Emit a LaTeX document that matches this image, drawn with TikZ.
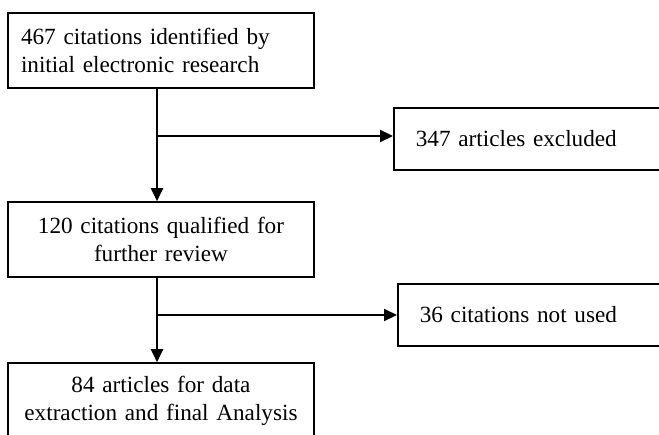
\documentclass[tikz,border=0pt]{standalone}
\usepackage{fontspec}
\setmainfont{Liberation Serif}
\usetikzlibrary{arrows.meta}

\tikzstyle{stageNode}=[rectangle,draw,thick,minimum width=153pt,minimum height=37.5pt,inner xsep=6.5pt,text width=140pt,font=\fontsize{11.6}{14}\selectfont]
\tikzstyle{sideNode}=[rectangle,draw,thick,minimum height=31pt,inner xsep=11pt,text width=116pt,align=left,anchor=west,font=\fontsize{11.6}{14}\selectfont]

\begin{document}
\begin{tikzpicture}[x=0.5pt,y=-0.5pt,>={Triangle[length=6.5pt,width=6pt]}]
  \useasboundingbox (0,0) rectangle (659,434);

  \node[stageNode,align=left] (ident) at (161,50.5) {467 citations identified by\\initial electronic research};
  \node[stageNode,align=center] (qual) at (161,239.5) {120 citations qualified for\\further review};
  \node[stageNode,align=center] (final) at (161,400.5) {84 articles for data\\extraction and final Analysis};
  \node[sideNode] (excl) at (393,139) {347 articles excluded};
  \node[sideNode] (unused) at (397,315) {36 citations not used};

  \coordinate (j1) at (157,136);
  \coordinate (j2) at (157,315);

  \path[->,draw,line width=1pt](ident.south -| j1)--(qual.north -| j1);
  \path[->,draw,line width=1pt](j1)--(j1 -| excl.west);
  \path[->,draw,line width=1pt](qual.south -| j2)--(final.north -| j2);
  \path[->,draw,line width=1pt](j2)--(j2 -| unused.west);

\end{tikzpicture}
\end{document}
